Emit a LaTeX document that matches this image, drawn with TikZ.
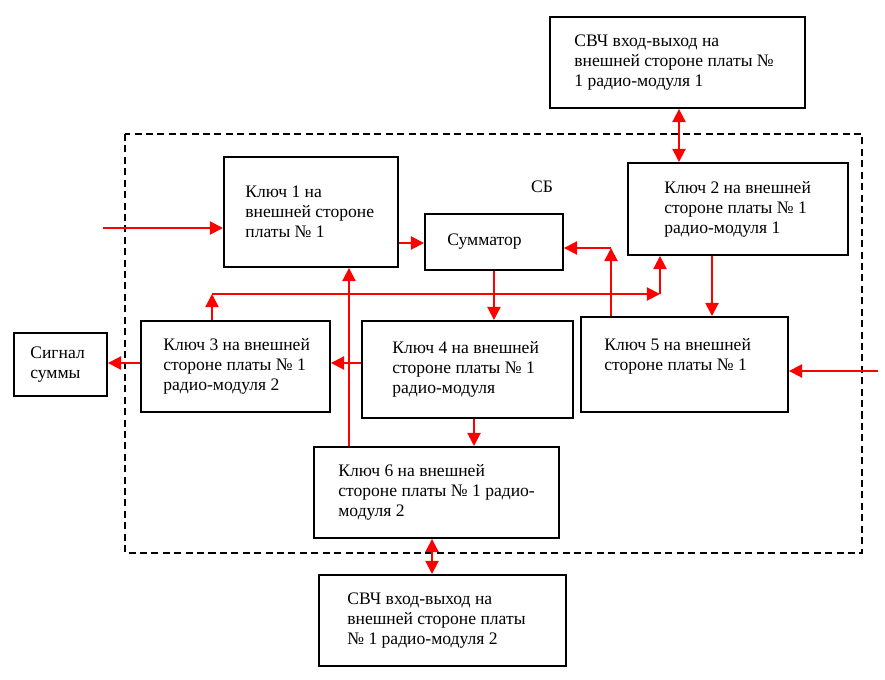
\documentclass[tikz,border=0pt]{standalone}
\usepackage{fontspec}
\setmainfont{Liberation Serif}
\usetikzlibrary{arrows.meta}

\tikzstyle{block} = [draw,line width=1.1pt,rectangle,inner sep=0pt,anchor=north west]
\tikzstyle{blocktext} = [anchor=west,align=left,inner sep=0pt,font=\fontsize{10}{11.4}\selectfont]
\tikzstyle{signal} = [draw,red,line width=1.1pt,-{Triangle[length=7.5pt,width=7.5pt]}]
\tikzstyle{dsignal} = [signal,{Triangle[length=7.5pt,width=7.5pt]}-{Triangle[length=7.5pt,width=7.5pt]}]
\tikzstyle{frame} = [draw,line width=1pt,dash pattern=on 4pt off 2.5pt]

\begin{document}
\begin{tikzpicture}[x=0.02cm,y=-0.02cm]
    \useasboundingbox (0,0) rectangle (885,679);

    % blocks: name/left/top/width/height/text indent/text
    \foreach \name/\x/\y/\w/\h/\pad/\txt in {
      svc1/549/16/255/91/25/{СВЧ вход-выход на\\внешней стороне платы №\\1 радио-модуля 1},
      k1/223/156/174/110/22/{Ключ 1 на\\внешней стороне\\платы № 1},
      sum/424/213/138/56/23/{Сумматор},
      k2/627/162/220/92/37/{Ключ 2 на внешней\\стороне платы № 1\\радио-модуля 1},
      k3/140/320/189/91/23/{Ключ 3 на внешней\\стороне платы № 1\\радио-модуля 2},
      sig/13/332/93/63/17/{Сигнал\\суммы},
      k4/361/320/211/97/31/{Ключ 4 на внешней\\стороне платы № 1\\радио-модуля},
      k5/580/316/207/95/24/{Ключ 5 на внешней\\стороне платы № 1\\\mbox{}},
      k6/313/446/245/91/25/{Ключ 6 на внешней\\стороне платы № 1 радио-\\модуля 2},
      svc2/318/574/247/91/29/{СВЧ вход-выход на\\внешней стороне платы\\№ 1 радио-модуля 2}}
    {
      \node[block, minimum width=\w*0.02cm, minimum height=\h*0.02cm] (\name) at (\x,\y) {};
      \node[blocktext] (\name-t) at ([xshift=\pad*0.02cm]\name.west) {\txt};
    }

    % board outline
    \draw[frame] (125,134) rectangle (862,553);
    \node[blocktext, anchor=center] (sb) at (542,187) {СБ};

    % helper points
    \coordinate (in1) at (103,228);
    \coordinate (in5) at (878,371);
    \coordinate (j1) at (611,248);
    \coordinate (b1) at (212,294);
    \coordinate (b2) at (660,294);
    \coordinate (h1) at (0,363);
    \coordinate (h2) at (0,243);
    \coordinate (v1) at (349,0);
    \coordinate (v2) at (474,0);
    \coordinate (v3) at (712,0);
    \coordinate (v4) at (679,0);
    \coordinate (v5) at (432,0);

    %signal lines
    \draw[signal] (in1) -- (in1 -| k1.west);
    \draw[signal] (k1.east |- h2) -- (sum.west |- h2);
    \draw[signal] (j1 |- k5.north) -- (j1);
    \draw[signal] (j1) -- (j1 -| sum.east);
    \draw[signal] (sum.south) -- (sum.south |- k4.north);
    \draw[signal] (b1 |- k3.north) -- (b1);
    \draw[signal] (b1) -- (b2);
    \draw[signal] (b2) -- (b2 |- k2.south);
    \draw[signal] (v1 |- k6.north) -- (v1 |- k1.south);
    \draw[signal] (k4.west |- h1) -- (k3.east |- h1);
    \draw[signal] (k3.west |- h1) -- (sig.east |- h1);
    \draw[signal] (v2 |- k4.south) -- (v2 |- k6.north);
    \draw[signal] (v3 |- k2.south) -- (v3 |- k5.north);
    \draw[signal] (in5) -- (in5 -| k5.east);
    \draw[dsignal] (v4 |- k2.north) -- (v4 |- svc1.south);
    \draw[dsignal] (v5 |- k6.south) -- (v5 |- svc2.north);
\end{tikzpicture}
\end{document}
